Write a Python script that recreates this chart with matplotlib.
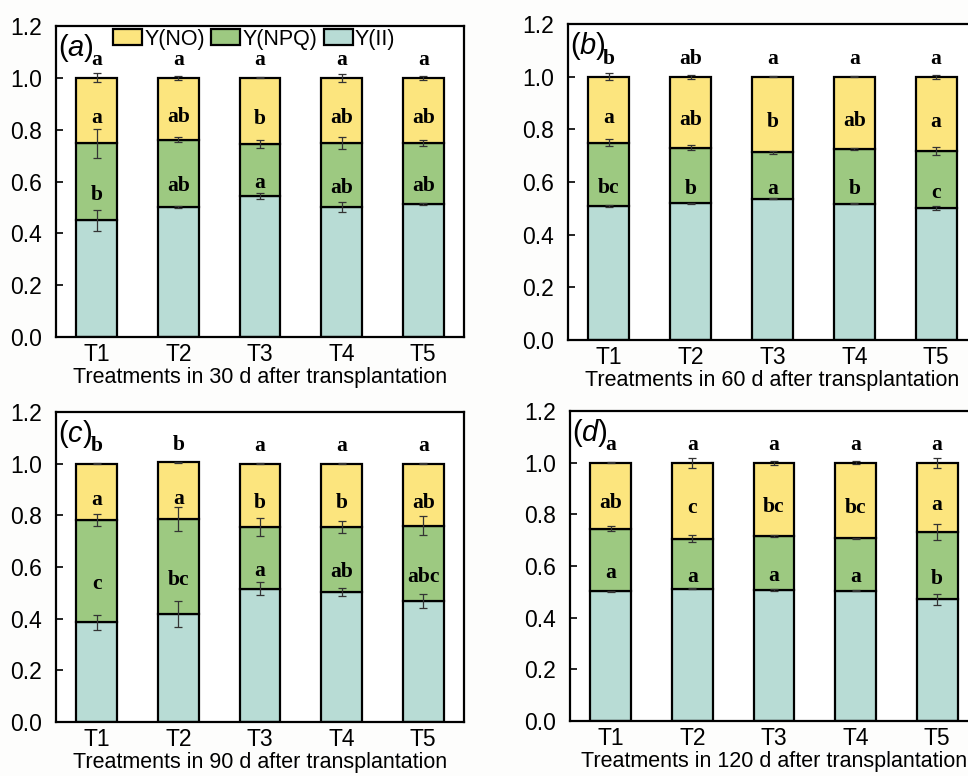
import matplotlib
matplotlib.use("Agg")
import matplotlib.pyplot as plt
import numpy as np

plt.rcParams['font.family'] = ['Liberation Sans', 'DejaVu Sans']
plt.rcParams['mathtext.fontset'] = 'custom'
plt.rcParams['mathtext.rm'] = 'Liberation Sans'
plt.rcParams['mathtext.it'] = 'Liberation Sans:italic'

treatments = ["T1", "T2", "T3", "T4", "T5"]
days = ["30", "60", "90", "120"]
panel_tags = ["a", "b", "c", "d"]

# Y(II), Y(NPQ), Y(NO) for each sampling date
y2_30 = [0.450, 0.501, 0.545, 0.501, 0.513]
npq_30 = [0.297, 0.260, 0.200, 0.246, 0.236]
no_30 = [0.253, 0.239, 0.255, 0.253, 0.251]
y2_err_30 = [0.041, 0.005, 0.012, 0.020, 0.003]
npq_err_30 = [0.056, 0.010, 0.014, 0.023, 0.012]
no_err_30 = [0.017, 0.008, 0.002, 0.015, 0.009]

y2_60 = [0.508, 0.519, 0.536, 0.518, 0.501]
npq_60 = [0.241, 0.211, 0.177, 0.208, 0.216]
no_60 = [0.251, 0.270, 0.287, 0.274, 0.283]
y2_err_60 = [0.003, 0.003, 0.002, 0.002, 0.007]
npq_err_60 = [0.014, 0.009, 0.005, 0.004, 0.016]
no_err_60 = [0.012, 0.008, 0.002, 0.002, 0.008]

y2_90 = [0.386, 0.418, 0.516, 0.503, 0.467]
npq_90 = [0.395, 0.367, 0.239, 0.252, 0.292]
no_90 = [0.219, 0.220, 0.245, 0.245, 0.241]
y2_err_90 = [0.028, 0.051, 0.026, 0.017, 0.027]
npq_err_90 = [0.024, 0.046, 0.034, 0.023, 0.037]
no_err_90 = [0.001, 0.001, 0.001, 0.001, 0.001]

y2_120 = [0.502, 0.512, 0.507, 0.505, 0.471]
npq_120 = [0.243, 0.193, 0.209, 0.203, 0.259]
no_120 = [0.255, 0.295, 0.284, 0.292, 0.270]
y2_err_120 = [0.003, 0.002, 0.002, 0.003, 0.021]
npq_err_120 = [0.008, 0.013, 0.002, 0.002, 0.031]
no_err_120 = [0.001, 0.019, 0.008, 0.006, 0.019]

# significance letters: above bar, in Y(NO) segment, in Y(NPQ) segment
top_letters_30 = ["a", "a", "a", "a", "a"]
no_letters_30 = ["a", "ab", "b", "ab", "ab"]
npq_letters_30 = ["b", "ab", "a", "ab", "ab"]
top_letters_60 = ["b", "ab", "a", "a", "a"]
no_letters_60 = ["a", "ab", "b", "ab", "a"]
npq_letters_60 = ["bc", "b", "a", "b", "c"]
top_letters_90 = ["b", "b", "a", "a", "a"]
no_letters_90 = ["a", "a", "b", "b", "ab"]
npq_letters_90 = ["c", "bc", "a", "ab", "abc"]
top_letters_120 = ["a", "a", "a", "a", "a"]
no_letters_120 = ["ab", "c", "bc", "bc", "a"]
npq_letters_120 = ["a", "a", "a", "a", "b"]

panels = [
    (y2_30, npq_30, no_30, y2_err_30, npq_err_30, no_err_30, top_letters_30, no_letters_30, npq_letters_30),
    (y2_60, npq_60, no_60, y2_err_60, npq_err_60, no_err_60, top_letters_60, no_letters_60, npq_letters_60),
    (y2_90, npq_90, no_90, y2_err_90, npq_err_90, no_err_90, top_letters_90, no_letters_90, npq_letters_90),
    (y2_120, npq_120, no_120, y2_err_120, npq_err_120, no_err_120, top_letters_120, no_letters_120, npq_letters_120),
]

# axes boxes in figure fraction [left, bottom, width, height]
boxes = [
    [0.0579, 0.5657, 0.4215, 0.4008],
    [0.5868, 0.5619, 0.4225, 0.4072],
    [0.0579, 0.0696, 0.4215, 0.3995],
    [0.5888, 0.0709, 0.4215, 0.3995],
]

col_no = "#fce57e"
col_npq = "#9dc981"
col_y2 = "#b8dcd5"
letter_font = dict(family="Liberation Serif", fontweight="bold", fontsize=15.5, zorder=4)

fig = plt.figure(figsize=(9.68, 7.76), dpi=100)
fig.patch.set_facecolor("#fdfdfc")

x = np.arange(1, 6)
for i, (y2, npq, no, e2, enpq, eno, tl, nl, pl) in enumerate(panels):
    ax = fig.add_axes(boxes[i])
    ax.set_facecolor("white")
    y2 = np.array(y2)
    npq = np.array(npq)
    no = np.array(no)
    # stacked bars
    b1 = ax.bar(x, y2, 0.5, color=col_y2, edgecolor="black", linewidth=1.6, label="Y(II)", zorder=2)
    b2 = ax.bar(x, npq, 0.5, bottom=y2, color=col_npq, edgecolor="black", linewidth=1.6, label="Y(NPQ)", zorder=2)
    b3 = ax.bar(x, no, 0.5, bottom=y2 + npq, color=col_no, edgecolor="black", linewidth=1.6, label="Y(NO)", zorder=2)
    # error bars at the top of each segment
    for top, err in [(y2, e2), (y2 + npq, enpq), (y2 + npq + no, eno)]:
        ax.errorbar(x, top, yerr=err, fmt="none", ecolor="#333333", elinewidth=0.9,
                    capsize=3, capthick=0.9, zorder=3)
    # significance letters
    for j in range(5):
        total = y2[j] + npq[j] + no[j]
        ax.text(x[j], total + 0.068, tl[j], ha="center", va="center", **letter_font)
        ax.text(x[j], y2[j] + npq[j] + no[j] / 2 - 0.03, nl[j], ha="center", va="center", **letter_font)
        ax.text(x[j], y2[j] + npq[j] / 2 - 0.05, pl[j], ha="center", va="center", **letter_font)
    ax.set_xlim(0.5, 5.5)
    ax.set_ylim(0, 1.2)
    ax.set_yticks(np.arange(0, 1.21, 0.2))
    ax.set_yticklabels(["%.1f" % v for v in np.arange(0, 1.21, 0.2)])
    ax.set_xticks(x)
    ax.set_xticklabels(treatments)
    ax.tick_params(axis="y", direction="in", length=5, width=1.2, labelsize=16.5, pad=10)
    ax.tick_params(axis="x", length=0, labelsize=16.5, pad=4)
    ax.set_xlabel("Treatments in " + days[i] + " d after transplantation", fontsize=15.5, labelpad=1)
    for s in ax.spines.values():
        s.set_linewidth(1.6)
    ax.text(0.004, 0.93, r"($\mathit{" + panel_tags[i] + "}$)", transform=ax.transAxes,
            fontsize=21, ha="left", va="center", zorder=5)
    if i == 0:
        ax.legend(handles=[b3, b2, b1], loc="upper left", bbox_to_anchor=(0.129, 1.005), ncol=3,
                  frameon=False, fontsize=15.5, handlelength=1.35, handleheight=0.75,
                  handletextpad=0.1, columnspacing=0.3, borderaxespad=0.0, borderpad=0.2)

plt.savefig("out.png", dpi=100, facecolor=fig.get_facecolor())
